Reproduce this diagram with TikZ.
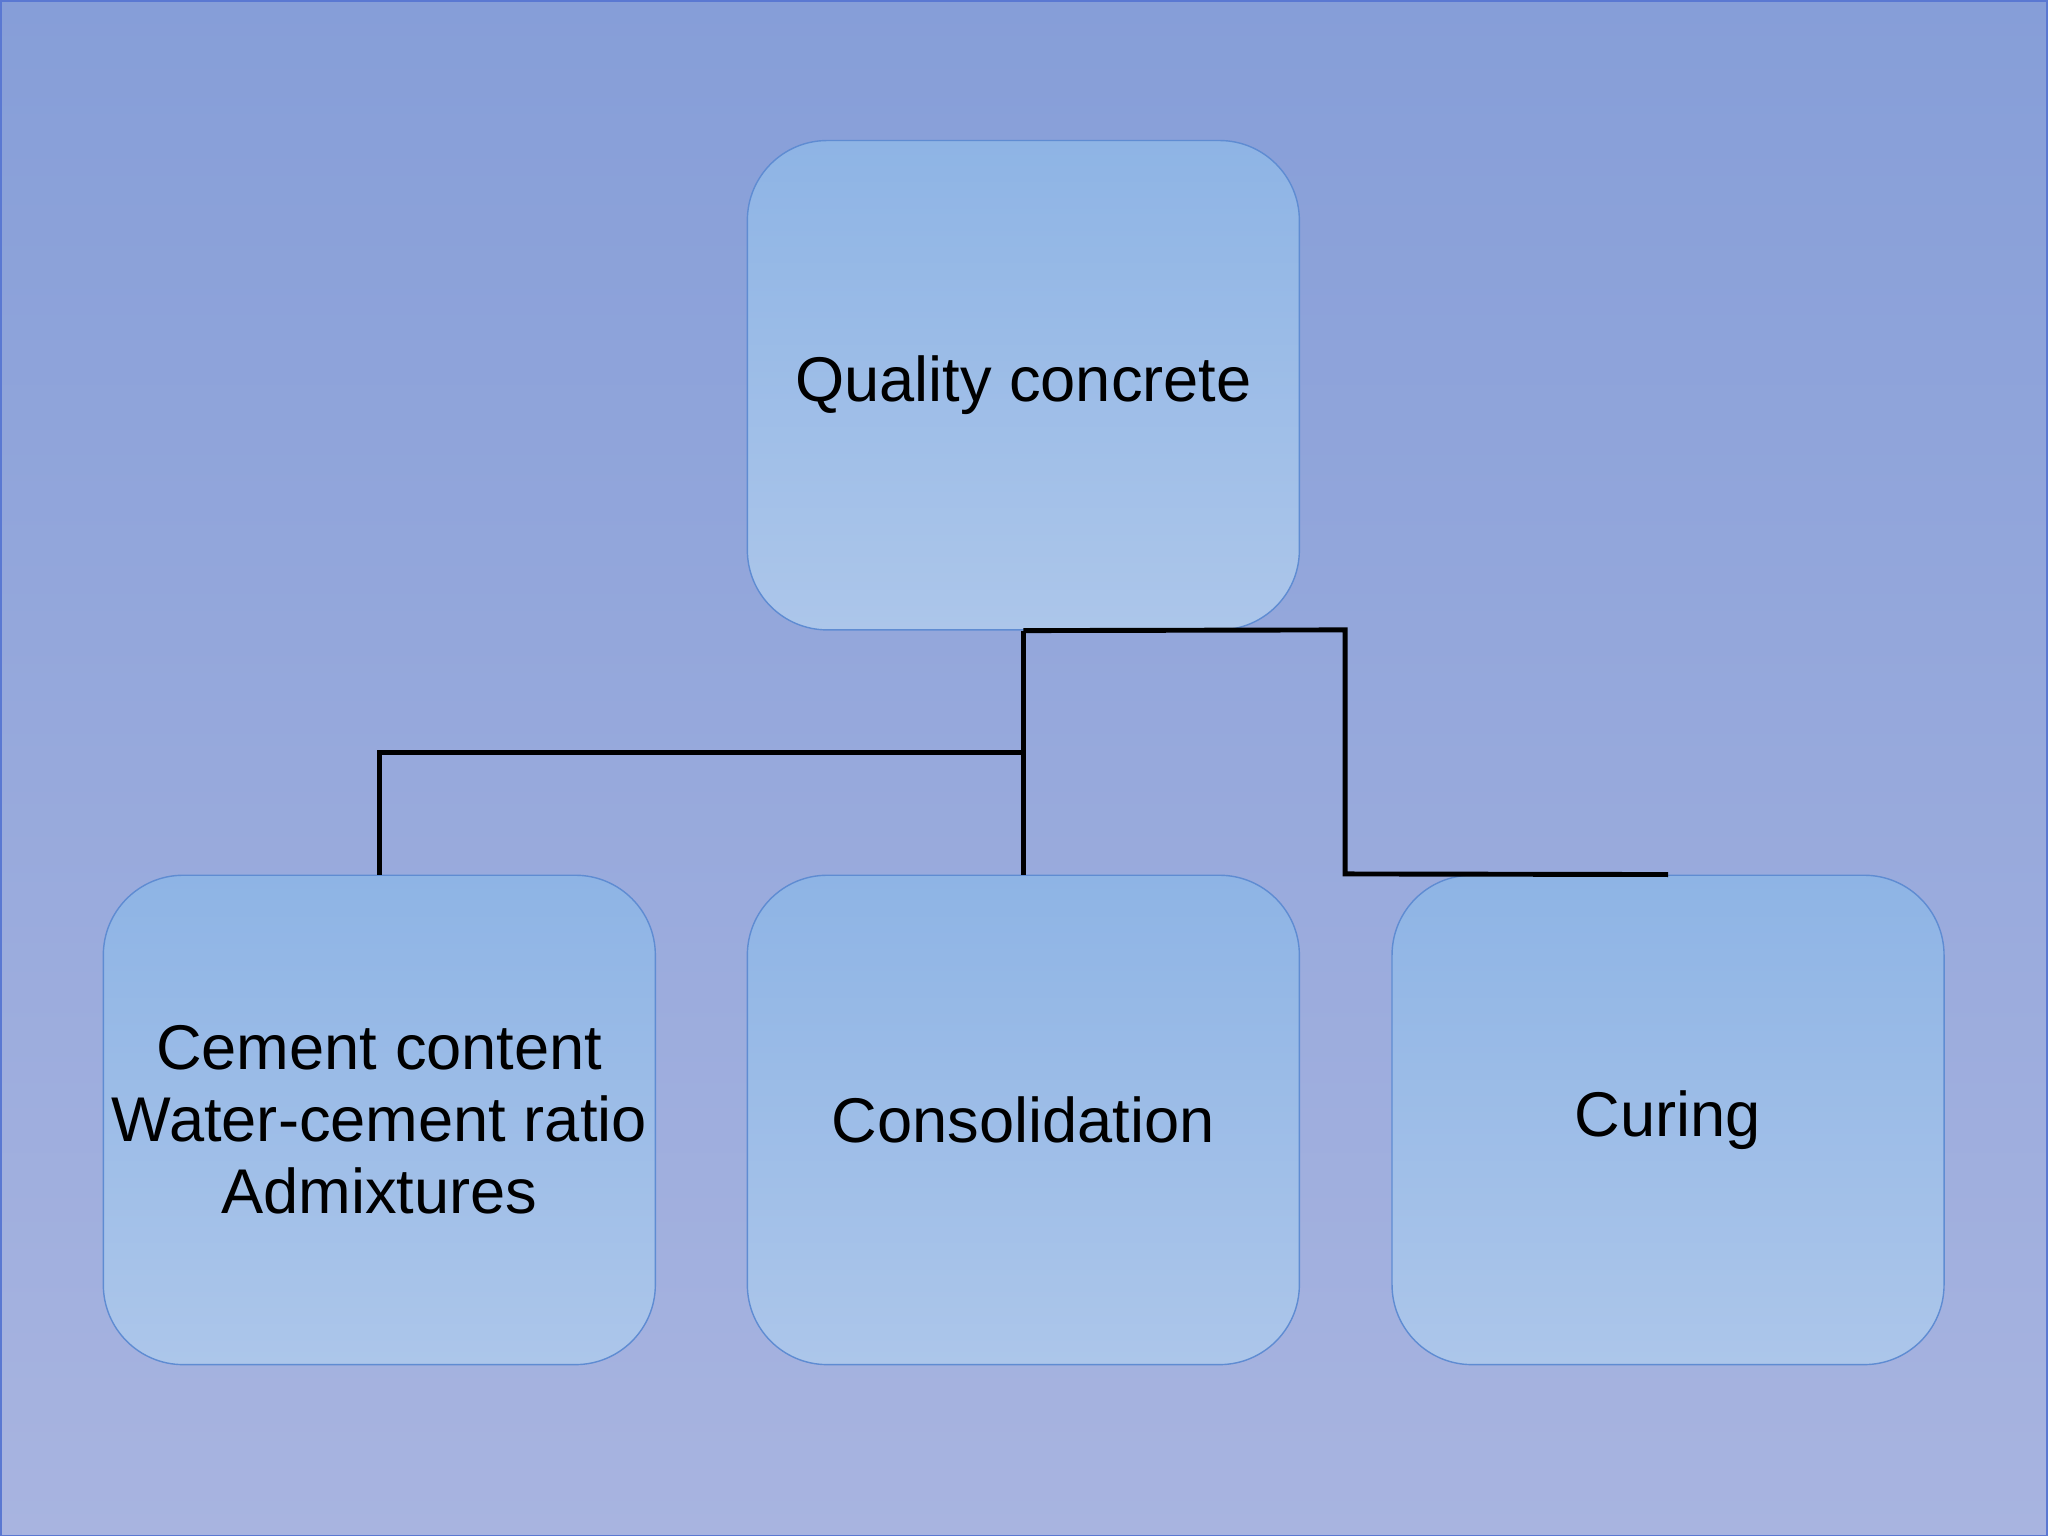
\documentclass[tikz,border=0pt]{standalone}
\usepackage{fontspec}
\setmainfont{Liberation Sans}
\begin{document}
\begin{tikzpicture}[x=0.01306cm,y=-0.01306cm,
  box/.style={draw={rgb,255:red,95;green,140;blue,210},line width=0.4pt,rounded corners=0.8cm,
    minimum width=423*0.01306cm,minimum height=375*0.01306cm,
    top color={rgb,255:red,142;green,180;blue,229},bottom color={rgb,255:red,172;green,198;blue,234},
    font=\fontsize{18}{20.5}\selectfont,align=center,inner sep=0pt},
  conn/.style={line width=1.4pt,black}]
\shade[top color={rgb,255:red,134;green,158;blue,216},bottom color={rgb,255:red,168;green,180;blue,224},draw={rgb,255:red,90;green,120;blue,210},line width=0.5pt] (0,0) rectangle (1568,1176);
\useasboundingbox (0,0) rectangle (1568,1176);
\node[box] (q) at (783.5,294.5) {Quality concrete};
\node[box] (a) at (290,857.5) {Cement content\\Water-cement ratio\\Admixtures};
\node[box] (b) at (783.5,857.5) {Consolidation};
\node[box] (c) at (1277.5,857.5) {Curing};
\coordinate (j1) at (783.5,576);
\coordinate (j2) at (1030,482);
\coordinate (j3) at (1030,669);
\draw[conn] (q.south) -- (b.north);
\draw[conn] (j1) -| (a.north);
\draw[conn] (q.south) -- (j2) -- (j3) -- (c.north);
\end{tikzpicture}
\end{document}
